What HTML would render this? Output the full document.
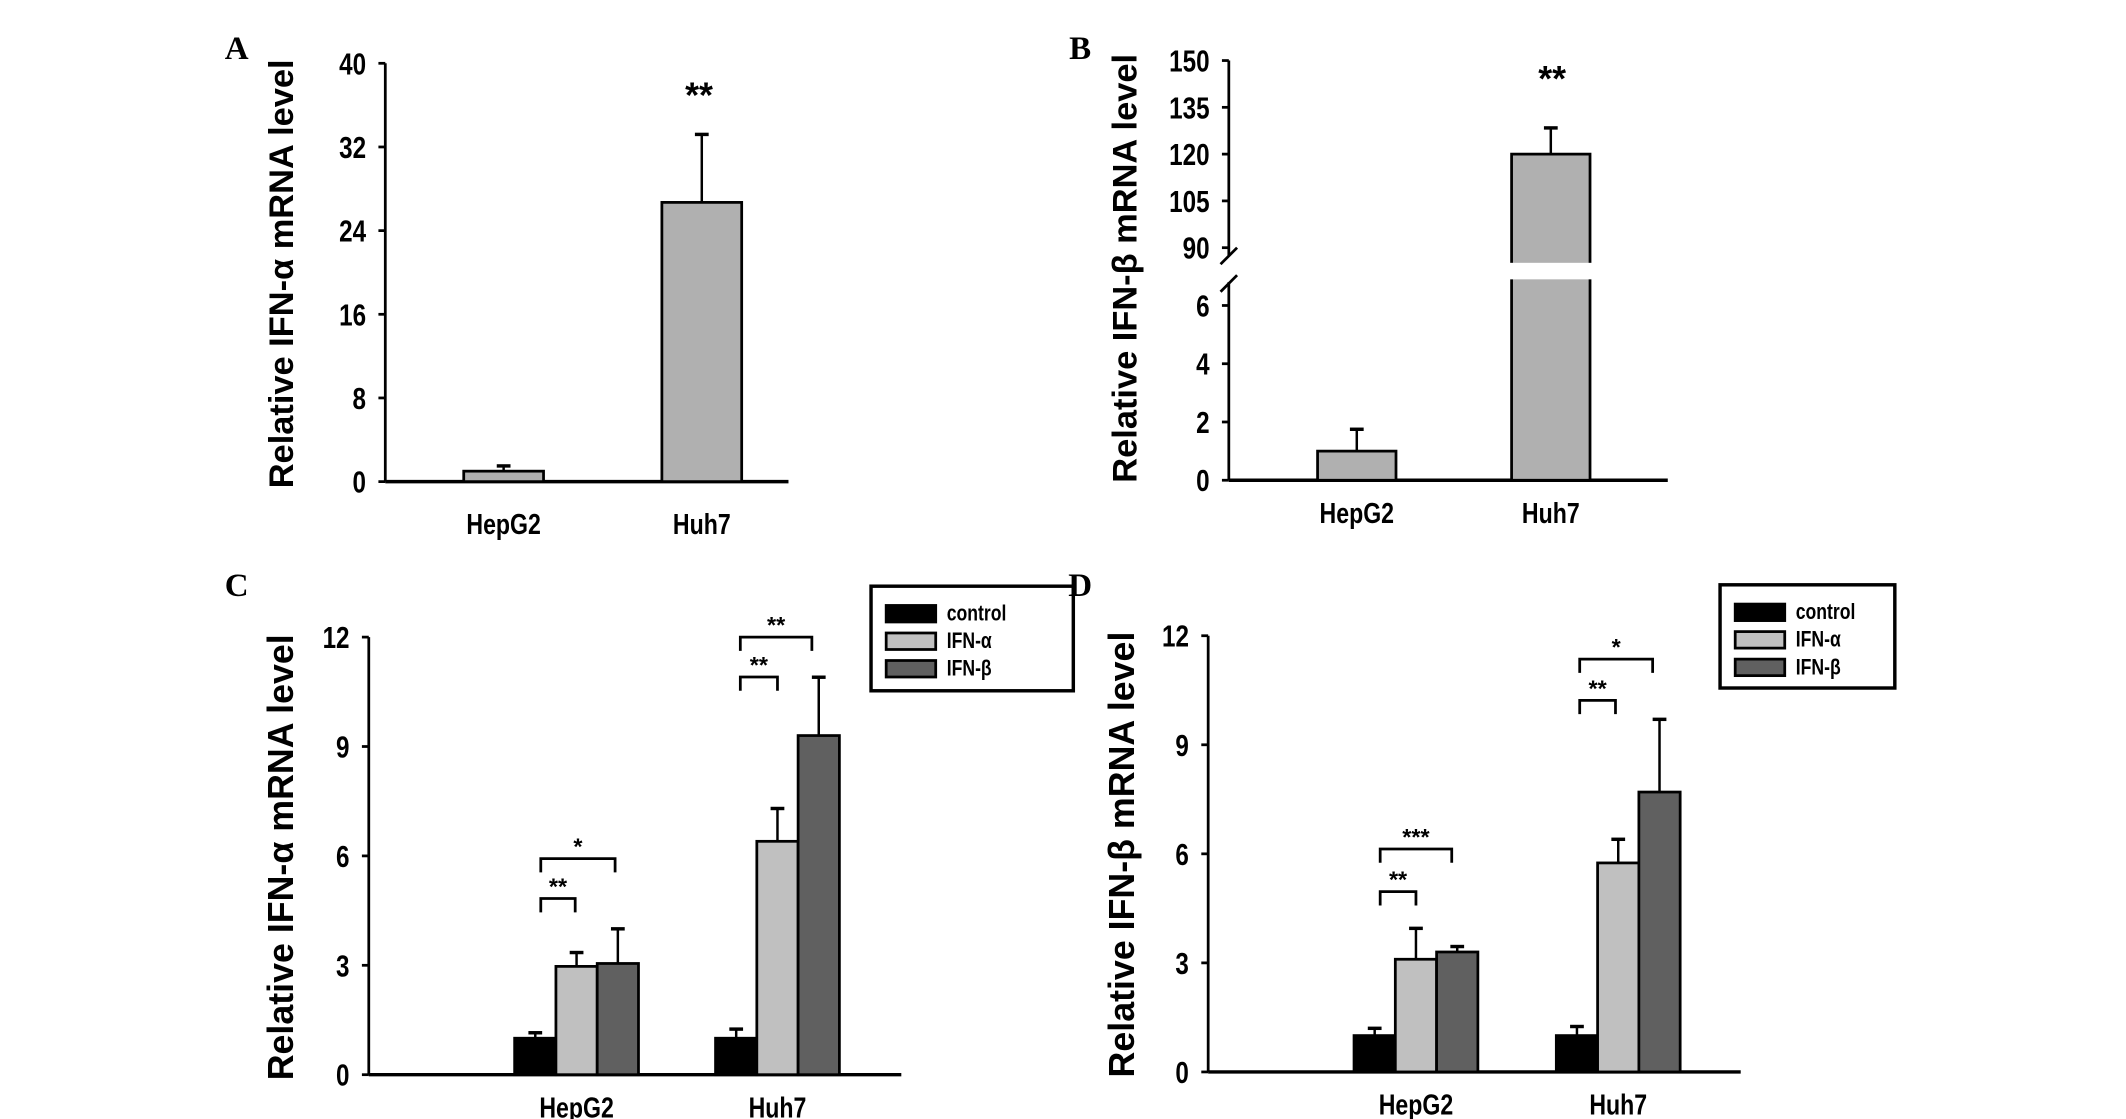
<!DOCTYPE html>
<html><head><meta charset="utf-8"><style>
html,body{margin:0;padding:0;background:#fff;}
svg{display:block;}
text{font-family:"Liberation Sans",sans-serif;font-weight:bold;fill:#000;}
.lbl{font-family:"Liberation Serif",serif;font-weight:bold;}
</style></head><body>
<svg id="fig" width="2126" height="1119" viewBox="0 0 1545 813.2" preserveAspectRatio="none" xmlns="http://www.w3.org/2000/svg"></svg>
<script>
// Panel A data
const aCats = ["HepG2", "Huh7"];
const aVals = [1.0, 26.7];
const aErr = [1.5, 33.2];
const aTicks = [0, 8, 16, 24, 32, 40];
// Panel B data
const bCats = ["HepG2", "Huh7"];
const bVals = [1.0, 120];
const bErr = [1.75, 128.4];
const bTicksLow = [0, 2, 4, 6];
const bTicksHigh = [90, 105, 120, 135, 150];
// Panel C data
const cCats = ["HepG2", "Huh7"];
const cSeries = ["control", "IFN-α", "IFN-β"];
const cControl = [1.0, 1.0];
const cAlpha = [2.97, 6.4];
const cBeta = [3.05, 9.3];
const cControlErr = [1.15, 1.25];
const cAlphaErr = [3.35, 7.3];
const cBetaErr = [4.0, 10.9];
const cTicks = [0, 3, 6, 9, 12];
// Panel D data
const dControl = [1.0, 1.0];
const dAlpha = [3.1, 5.75];
const dBeta = [3.3, 7.7];
const dControlErr = [1.2, 1.25];
const dAlphaErr = [3.95, 6.4];
const dBetaErr = [3.45, 9.7];
const dTicks = [0, 3, 6, 9, 12];

const svg = document.getElementById('fig');
const NS = "http://www.w3.org/2000/svg";
function el(tag, attrs, parent, txt) {
  const e = document.createElementNS(NS, tag);
  for (const k in attrs) e.setAttribute(k, attrs[k]);
  if (txt !== undefined) e.textContent = txt;
  (parent || svg).appendChild(e);
  return e;
}
function line(x1,y1,x2,y2,w,name){
  const l = el('line',{x1:x1,y1:y1,x2:x2,y2:y2,stroke:'#000','stroke-width':w||2});
  
  
  return l;
}
function txt(x,y,s,size,name,anchor,extra){
  const t = el('text',Object.assign({x:x,y:y,'font-size':size,'text-anchor':anchor||'middle'},extra||{}),svg,s);
  
  
  return t;
}
function narrow(x,y,s,size,name,anchor){
  const t = el('text',{x:0,y:0,'font-size':size,'text-anchor':anchor||'middle',transform:'translate('+x+' '+y+') scale(0.8 1)'},svg,s);
  
  
  return t;
}
function rect(x,y,w,h,fill,name){
  const r = el('rect',{x:x,y:y,width:w,height:h,fill:fill,stroke:'#000','stroke-width':2});
  
  
  return r;
}
function errbar(x,y0,y1,name){
  line(x,y0,x,y1,1.8,name);
  line(x-5,y1,x+5,y1,2.5,name+'-cap');
}
function ytitle(x,y,s,size){
  return txt(x,y,s,size||25,'y-axis-title','middle',{transform:'rotate(-90 '+x+' '+y+')'});
}

// ---------- Panel A ----------
(function(){
  const ax=280, y0=350, yTop=46, xEnd=573;
  const y = v => y0 - (v/40)*(y0-yTop);
  txt(172,43,'A',24,'panel-label-a','middle',{class:'lbl'});
  line(ax,yTop,ax,y0,2,'y-axis-a');
  line(ax,y0,xEnd,y0,2.5,'x-axis-a');
  aTicks.forEach(t=>{ line(ax-5,y(t),ax,y(t),2,'y-tick'); narrow(ax-14,y(t)+8,String(t),22,'y-tick-label','end'); });
  const cx=[366,510], bw=58;
  aCats.forEach((c,i)=>{
    errbar(cx[i],y(aVals[i]),y(aErr[i]),'error-bar-a-'+c);
    rect(cx[i]-bw/2,y(aVals[i]),bw,y0-y(aVals[i]),'#b0b0b0','bar-a-'+c);
    narrow(cx[i],388,c,21,'x-tick-label');
  });
  txt(508,78,'**',26,'significance-a');
  ytitle(213,199,'Relative IFN-α mRNA level',25);
})();

// ---------- Panel B ----------
(function(){
  const ax=893, y0=349, xEnd=1212;
  const yl = v => y0 - (v/6)*(y0-222);
  const yh = v => 180 - ((v-90)/60)*(180-44);
  const yv = v => v<=6 ? yl(v) : yh(v);
  txt(785,43,'B',24,'panel-label-b','middle',{class:'lbl'});
  line(ax,44,ax,186,2,'y-axis-b-upper');
  line(ax,205,ax,y0,2,'y-axis-b-lower');
  line(ax-6,192,ax+6,180,2,'axis-break');
  line(ax-6,212,ax+6,200,2,'axis-break');
  line(ax,y0,xEnd,y0,2.5,'x-axis-b');
  bTicksLow.forEach(t=>{ line(ax-5,yl(t),ax,yl(t),2,'y-tick'); narrow(ax-14,yl(t)+8,String(t),22,'y-tick-label','end'); });
  bTicksHigh.forEach(t=>{ line(ax-5,yh(t),ax,yh(t),2,'y-tick'); narrow(ax-14,yh(t)+8,String(t),22,'y-tick-label','end'); });
  const cx=[986,1127], bw=57;
  bCats.forEach((c,i)=>{
    errbar(cx[i],yv(bVals[i]),yv(bErr[i]),'error-bar-b-'+c);
    rect(cx[i]-bw/2,yv(bVals[i]),bw,y0-yv(bVals[i]),'#b0b0b0','bar-b-'+c);
    narrow(cx[i],380,c,21,'x-tick-label');
  });
  const g = el('rect',{x:cx[1]-bw/2-2,y:191,width:bw+4,height:12,fill:'#fff'});
  
  
  txt(1128,66,'**',26,'significance-b');
  ytitle(826,195,'Relative IFN-β mRNA level',25);
})();

// ---------- Grouped panels ----------
function grouped(o){
  const y = v => o.y0 - (v/12)*(o.y0-o.yTop);
  txt(o.lx,433,o.letter,24,'panel-label-'+o.letter.toLowerCase(),'middle',{class:'lbl'});
  line(o.ax,o.yTop,o.ax,o.y0,2,'y-axis');
  line(o.ax,o.y0,o.xEnd,o.y0,2.5,'x-axis');
  o.ticks.forEach(t=>{ line(o.ax-5,y(t),o.ax,y(t),2,'y-tick'); narrow(o.ax-14,y(t)+8,String(t),22,'y-tick-label','end'); });
  const fills=['#000','#c0c0c0','#606060'];
  const bw=30;
  cCats.forEach((c,i)=>{
    o.series.forEach((s,j)=>{
      const x = o.gx[i]+j*bw;
      errbar(x+bw/2,y(s[i]),y(o.errs[j][i]),'error-bar-'+c+'-'+cSeries[j]);
      rect(x,y(s[i]),bw,o.y0-y(s[i]),fills[j],'bar-'+c+'-'+cSeries[j]);
    });
    narrow(o.gx[i]+45,o.y0+31,c,21,'x-tick-label');
  });
  o.brackets.forEach(b=>{
    const p = el('path',{d:'M'+b[0]+' '+(b[2]+10)+'V'+b[2]+'H'+b[1]+'V'+(b[2]+10),fill:'none',stroke:'#000','stroke-width':2});
    
    
    txt((b[0]+b[1])/2,b[2]-3,b[3],17,'significance-label','middle',{'font-weight':'normal'});
  });
  const L = o.legend;
  const box = el('rect',{x:L[0],y:L[1],width:L[2],height:L[3],fill:'#fff',stroke:'#000','stroke-width':2.5});
  
  
  cSeries.forEach((s,j)=>{
    rect(L[0]+11,L[1]+14+j*20,36,12,fills[j],'legend-swatch-'+s);
    narrow(L[0]+55,L[1]+25+j*20,s,16,'legend-entry','start');
  });
  ytitle(o.tx,o.y0-158,o.title,26);
}
grouped({letter:'C',lx:172,ax:268,y0:781,yTop:463,xEnd:655,ticks:cTicks,gx:[374,520],
  series:[cControl,cAlpha,cBeta],errs:[cControlErr,cAlphaErr,cBetaErr],
  brackets:[[393,418,653,'**'],[393,447,624,'*'],[538,565,492,'**'],[538,590,463,'**']],
  legend:[633,426,147,76],tx:213,title:'Relative IFN-α  mRNA level'});
grouped({letter:'D',lx:785,ax:878,y0:779,yTop:462,xEnd:1265,ticks:dTicks,gx:[984,1131],
  series:[dControl,dAlpha,dBeta],errs:[dControlErr,dAlphaErr,dBetaErr],
  brackets:[[1003,1029,648,'**'],[1003,1055,617,'***'],[1148,1174,509,'**'],[1148,1201,479,'*']],
  legend:[1250,425,127,75],tx:824,title:'Relative IFN-β  mRNA level'});
</script>
</body></html>
